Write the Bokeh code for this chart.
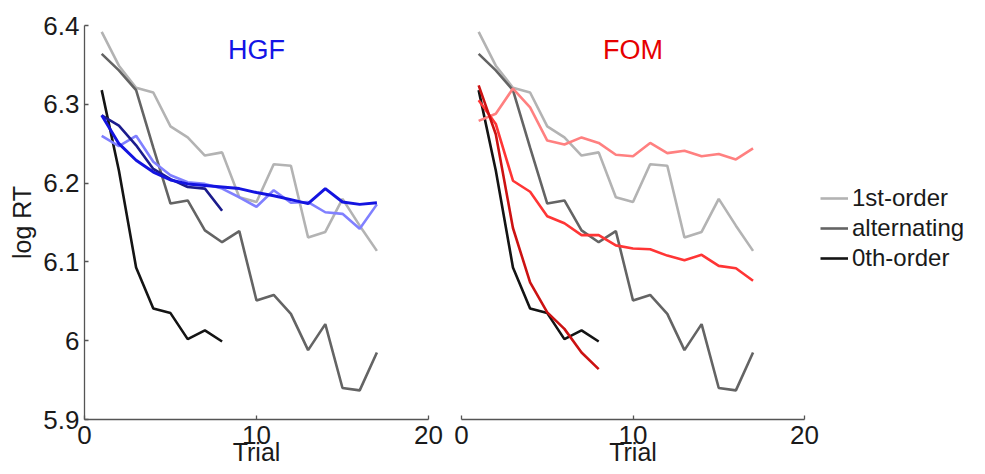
from bokeh.plotting import figure
from bokeh.layouts import row
from bokeh.models import Range1d, FixedTicker, Label, Legend, LegendItem
from bokeh.embed import file_html
from bokeh.resources import INLINE

# ---- data ----
trials_long = list(range(1, 18))
trials_short = list(range(1, 9))

first_order = [6.392, 6.349, 6.321, 6.315, 6.272, 6.258, 6.235, 6.239, 6.182,
               6.176, 6.224, 6.222, 6.131, 6.138, 6.180, 6.146, 6.114]
alternating = [6.364, 6.343, 6.318, 6.245, 6.174, 6.178, 6.140, 6.125, 6.139,
               6.051, 6.058, 6.034, 5.988, 6.021, 5.940, 5.937, 5.985]
zeroth_order = [6.318, 6.216, 6.093, 6.041, 6.035, 6.002, 6.013, 5.999]

hgf_zeroth = [6.286, 6.273, 6.248, 6.218, 6.205, 6.195, 6.193, 6.165]
hgf_first = [6.260, 6.247, 6.260, 6.227, 6.210, 6.201, 6.199, 6.193, 6.182,
             6.170, 6.191, 6.175, 6.176, 6.163, 6.161, 6.142, 6.173]
hgf_alt = [6.286, 6.250, 6.229, 6.214, 6.204, 6.199, 6.197, 6.195, 6.193,
           6.188, 6.184, 6.179, 6.174, 6.193, 6.176, 6.173, 6.175]

fom_zeroth = [6.324, 6.262, 6.143, 6.074, 6.036, 6.015, 5.985, 5.964]
fom_first = [6.279, 6.288, 6.320, 6.296, 6.254, 6.249, 6.258, 6.251, 6.236,
             6.234, 6.251, 6.238, 6.241, 6.234, 6.237, 6.230, 6.244]
fom_alt = [6.305, 6.275, 6.203, 6.189, 6.158, 6.149, 6.134, 6.134, 6.121,
           6.117, 6.116, 6.108, 6.102, 6.109, 6.095, 6.092, 6.076]

y_ticks = [5.9, 6.0, 6.1, 6.2, 6.3, 6.4]
x_ticks = [0, 10, 20]
legend_labels = ["1st-order", "alternating", "0th-order"]

FONT = "Liberation Sans"
C_LIGHT = "#b3b3b3"
C_MID = "#646464"
C_DARK = "#141414"
LW = 2.6
H = 474

y_range = Range1d(5.9, 6.4)


def style(p, show_y):
    p.outline_line_color = None
    p.xgrid.visible = False
    p.ygrid.visible = False
    p.background_fill_color = "white"
    p.border_fill_color = "white"
    for ax in [p.xaxis[0], p.yaxis[0]]:
        ax.axis_line_color = "#555555"
        ax.axis_line_width = 1.3
        ax.major_tick_line_color = "#555555"
        ax.major_tick_line_width = 1.3
        ax.major_tick_in = 4
        ax.major_tick_out = 0
        ax.minor_tick_line_color = None
        ax.major_label_text_font = FONT
        ax.major_label_text_font_size = "26px"
        ax.major_label_text_color = "#1a1a1a"
        ax.axis_label_text_font = FONT
        ax.axis_label_text_font_size = "25px"
        ax.axis_label_text_font_style = "normal"
        ax.axis_label_text_color = "#1a1a1a"
    p.xaxis.ticker = FixedTicker(ticks=x_ticks)
    p.xaxis.axis_label = "Trial"
    p.xaxis.major_label_standoff = 6
    p.xaxis.axis_label_standoff = -9
    if show_y:
        p.yaxis.ticker = FixedTicker(ticks=y_ticks)
        p.yaxis.major_label_overrides = {6.0: "6"}
        p.yaxis.axis_label = "log RT"
        p.yaxis.major_label_standoff = 5
        p.yaxis.axis_label_standoff = 4
    else:
        p.yaxis.visible = False


p1 = figure(width=446, height=H, x_range=Range1d(0, 20), y_range=y_range,
            output_backend="svg", toolbar_location=None,
            min_border_left=84, min_border_right=18,
            min_border_top=25, min_border_bottom=H - 25 - 394)
style(p1, True)

p2 = figure(width=374, height=H, x_range=Range1d(0, 20), y_range=y_range,
            output_backend="svg", toolbar_location=None,
            min_border_left=15, min_border_right=16,
            min_border_top=25, min_border_bottom=H - 25 - 394)
style(p2, False)

# legend panel: the same condition lines, kept outside its visible range
p3 = figure(width=165, height=H, x_range=Range1d(-40, -30), y_range=y_range,
            output_backend="svg", toolbar_location=None,
            min_border_left=0, min_border_right=0,
            min_border_top=0, min_border_bottom=0)
p3.axis.visible = False
p3.xgrid.visible = False
p3.ygrid.visible = False
p3.outline_line_color = None

# data lines in both panels
for p in (p1, p2):
    p.line(trials_long, first_order, line_color=C_LIGHT, line_width=LW)
    p.line(trials_long, alternating, line_color=C_MID, line_width=LW)
    p.line(trials_short, zeroth_order, line_color=C_DARK, line_width=LW)

# HGF model lines
p1.line(trials_long, hgf_first, line_color="#8080ff", line_width=LW)
p1.line(trials_short, hgf_zeroth, line_color="#1c1c8c", line_width=LW)
p1.line(trials_long, hgf_alt, line_color="#1414e0", line_width=LW + 0.4)

# FOM model lines
p2.line(trials_long, fom_first, line_color="#ff8080", line_width=LW)
p2.line(trials_long, fom_alt, line_color="#ff3535", line_width=LW)
p2.line(trials_short, fom_zeroth, line_color="#cc1212", line_width=LW)

p1.add_layout(Label(x=10, y=6.369, text="HGF", text_align="center",
                    text_baseline="middle", text_font=FONT,
                    text_font_size="27px", text_color="#1414e6"))
p2.add_layout(Label(x=10, y=6.369, text="FOM", text_align="center",
                    text_baseline="middle", text_font=FONT,
                    text_font_size="27px", text_color="#e60000"))

l1 = p3.line(trials_long, first_order, line_color=C_LIGHT, line_width=LW)
l2 = p3.line(trials_long, alternating, line_color=C_MID, line_width=LW)
l3 = p3.line(trials_short, zeroth_order, line_color=C_DARK, line_width=LW)
legend = Legend(items=[LegendItem(label=legend_labels[0], renderers=[l1]),
                       LegendItem(label=legend_labels[1], renderers=[l2]),
                       LegendItem(label=legend_labels[2], renderers=[l3])],
                location=(0, 146), orientation="vertical",
                label_text_font=FONT, label_text_font_size="24px",
                label_text_color="#1a1a1a",
                glyph_width=28, glyph_height=30, label_height=30,
                label_standoff=4, spacing=0, padding=0, margin=0,
                border_line_color=None, background_fill_alpha=0)
p3.add_layout(legend, "center")

layout = row(p1, p2, p3)
open("out.html", "w").write(file_html(layout, INLINE))
